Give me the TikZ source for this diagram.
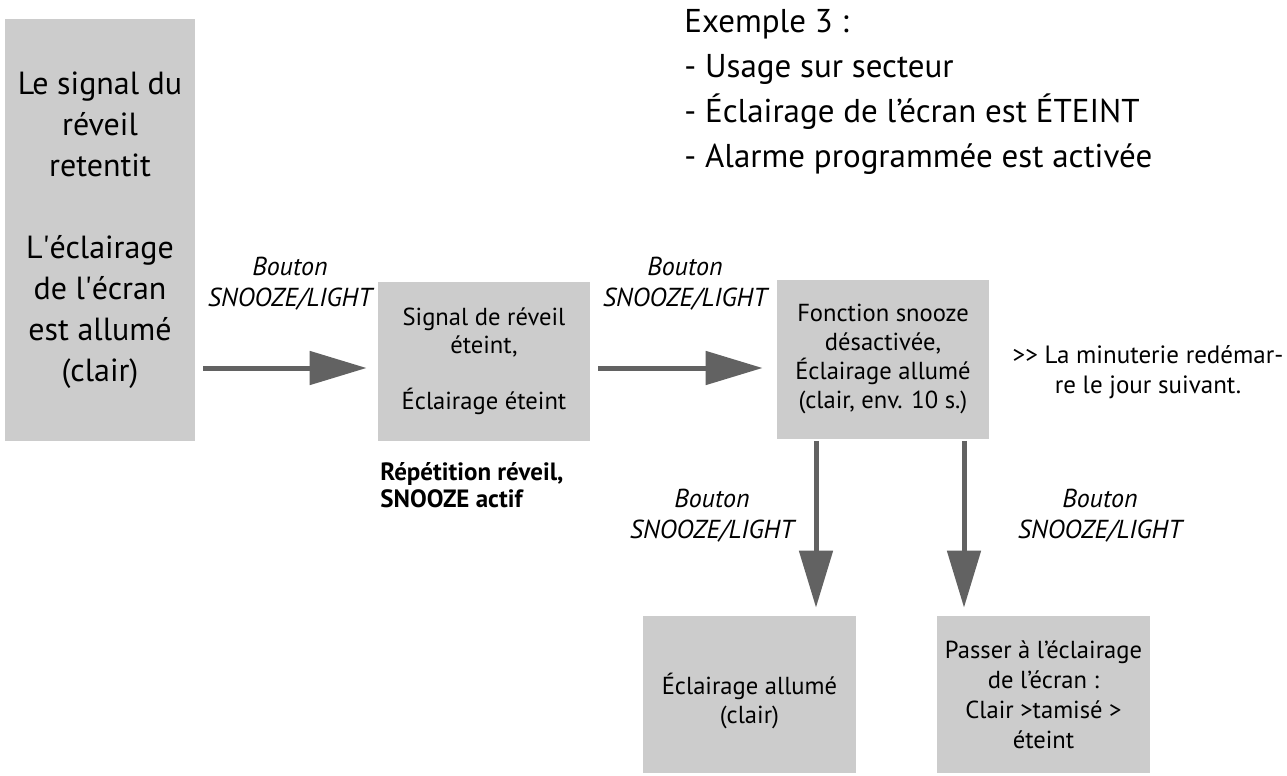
\documentclass[tikz,border=0pt]{standalone}
\usepackage{fontspec}
\setmainfont{PT Sans}
\usetikzlibrary{arrows.meta,calc}
\definecolor{boxgray}{RGB}{204,204,204}
\definecolor{arrgray}{RGB}{98,98,98}
\begin{document}
\begin{tikzpicture}[x=0.5pt,y=-0.5pt,
  box/.style={fill=boxgray, draw=none, inner sep=0pt, align=center, font=\fontsize{12.3}{14.5}\selectfont},
  arr/.style={draw=arrgray, line width=2.5pt, -{Triangle[length=28.5pt,width=16.5pt]}},
  lbl/.style={align=center, inner sep=0pt, font=\fontsize{13}{15.5}\selectfont\itshape},
]
\useasboundingbox (0,0) rectangle (1287,776);
\fill[white] (0,0) rectangle (1287,776);

\node[box, minimum width=95pt, minimum height=211pt, font=\fontsize{16}{20.5}\selectfont] (b1) at (100,230)
  {Le signal du\\réveil\\retentit\\[20.5pt]L\textquotesingle éclairage\\de l\textquotesingle écran\\est allumé\\(clair)};
\node[box, minimum width=106pt, minimum height=79.5pt, font=\fontsize{12.3}{14}\selectfont] (b2) at (484,361.5)
  {Signal de réveil\\éteint,\\[14pt]Éclairage éteint};
\node[box, minimum width=106pt, minimum height=79.5pt] (b3) at (883,359)
  {Fonction snooze\\désactivée,\\Éclairage allumé\\(clair, env. 10 s.)};
\node[box, minimum width=106.5pt, minimum height=78.5pt] (b4) at (749.5,694.5)
  {\rule{0pt}{17pt}Éclairage allumé\\(clair)};
\node[box, minimum width=106.5pt, minimum height=78.5pt, font=\fontsize{12.3}{15}\selectfont] (b5) at (1043.5,694.5)
  {Passer à l’éclairage\\de l’écran :\\Clair >tamisé >\\éteint};

\node[lbl] (l1) at (290,284) {Bouton\\SNOOZE/LIGHT};
\node[lbl] (l2) at (685,284) {Bouton\\SNOOZE/LIGHT};
\node[lbl] (l3) at (712,516) {Bouton\\SNOOZE/LIGHT};
\node[lbl] (l4) at (1100,516) {Bouton\\SNOOZE/LIGHT};

\node[anchor=north west, align=left, inner sep=0pt, font=\fontsize{12.5}{13.5}\selectfont\bfseries] (rep) at (380,462)
  {Répétition réveil,\\SNOOZE actif};
\node[align=center, inner sep=0pt, font=\fontsize{12.5}{15}\selectfont] (minut) at (1148,372)
  {>\kern0pt> La minuterie redémar-\\re le jour suivant.};
\node[anchor=north west, align=left, inner sep=0pt, font=\fontsize{16.5}{22.5}\selectfont] (title) at (684,9)
  {Exemple 3 :\\- Usage sur secteur\\- Éclairage de l’écran est ÉTEINT\\- Alarme programmée est activée};

\coordinate (h) at (0,368);
\coordinate (v1) at (816,0);
\coordinate (v2) at (964,0);
\draw[arr, shorten <=4pt, shorten >=5.5pt] (b1.east |- h) -- (b2.west |- h);
\draw[arr, shorten <=4pt, shorten >=7pt] (b2.east |- h) -- (b3.west |- h);
\draw[arr, shorten <=1pt, shorten >=4pt] (b3.south -| v1) -- (b4.north -| v1);
\draw[arr, shorten <=1pt, shorten >=4pt] (b3.south -| v2) -- (b5.north -| v2);
\end{tikzpicture}
\end{document}
